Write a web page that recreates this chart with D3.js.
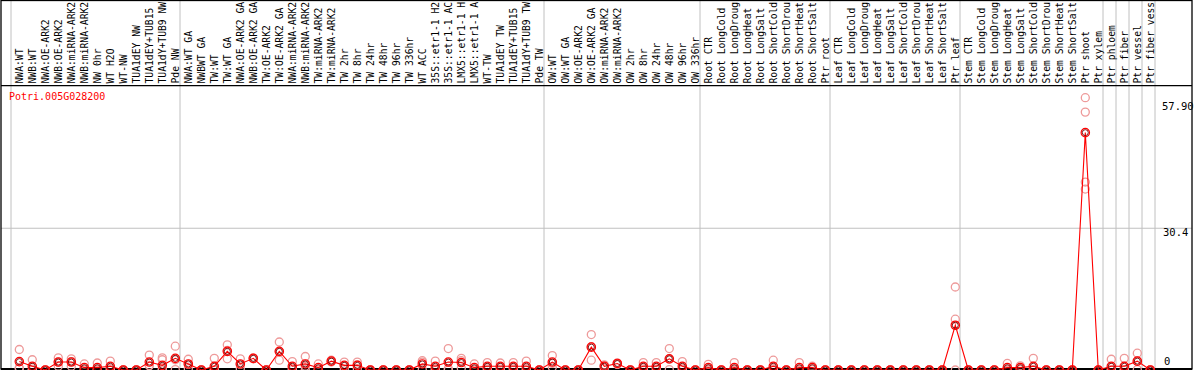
<!DOCTYPE html>
<html><head><meta charset="utf-8">
<script src="https://cdn.jsdelivr.net/npm/d3@7"></script>
<style>body{margin:0;background:#fff}svg{display:block}</style>
</head><body>
<script>
const categories = [
 "NWA:WT","NWB:WT","NWA:OE-ARK2","NWB:OE-ARK2","NWA:miRNA-ARK2","NWB:miRNA-ARK2","NW 0hr","WT H2O","WT-NW","TUA1dEY NW","TUA1dEY+TUB15","TUA1dY+TUB9 NW","Pde NW",
 "NWA:WT GA","NWBWT GA","TW:WT","TW:WT GA","NWA:OE-ARK2 GA","NWB:OE-ARK2 GA","TW:OE-ARK2","TW:OE-ARK2 GA","NWA:miRNA-ARK2","NWB:miRNA-ARK2","TW:miRNA-ARK2","TW:miRNA-ARK2",
 "TW 2hr","TW 8hr","TW 24hr","TW 48hr","TW 96hr","TW 336hr","WT ACC","35S::etr1-1 H2","35S::etr1-1 AC","LMX5::etr1-1 H","LMX5::etr1-1 A","WT-TW","TUA1dEY TW","TUA1dEY+TUB15","TUA1dY+TUB9 TW","Pde TW",
 "OW:WT","OW:WT GA","OW:OE-ARK2","OW:OE-ARK2 GA","OW:miRNA-ARK2","OW:miRNA-ARK2","OW 2hr","OW 8hr","OW 24hr","OW 48hr","OW 96hr","OW 336hr",
 "Root CTR","Root LongCold","Root LongDroug","Root LongHeat","Root LongSalt","Root ShortCold","Root ShortDrou","Root ShortHeat","Root ShortSalt","Ptr root",
 "Leaf CTR","Leaf LongCold","Leaf LongDroug","Leaf LongHeat","Leaf LongSalt","Leaf ShortCold","Leaf ShortDrou","Leaf ShortHeat","Leaf ShortSalt","Ptr leaf",
 "Stem CTR","Stem LongCold","Stem LongDroug","Stem LongHeat","Stem LongSalt","Stem ShortCold","Stem ShortDrou","Stem ShortHeat","Stem ShortSalt","Ptr shoot","Ptr xylem",
 "Ptr phloem","Ptr fiber","Ptr vessel","Ptr fiber vess"
];
// index of the first category of each group (last entry closes the final group)
const groupStarts = [0,13,41,53,63,73,84,85,86,87,88];

const means = [
 1.8,0.8,0,1.7,1.7,0.5,0.5,0.8,0,0,1.7,1.0,2.5,
 1.3,0,0.8,4.0,1.3,2.5,0,4.0,0.8,1.3,0.5,1.9,1.0,1.0,0,0,0,0,1.3,0.8,1.7,1.6,0.5,0.8,0.8,0.8,0.8,0,
 1.7,0,0,4.9,0.8,1.4,0,0.8,0.8,2.4,0.8,0,
 0.5,0,0.5,0,0,0.8,0,0.5,0.5,0,
 0,0,0,0,0,0,0,0,0,9.6,
 0,0,0,0.5,0.5,0.8,0,0,0,50.9,0,
 0.8,0.8,1.9,0
];
const replicates = [
 [4.4,0.5,0.3],[2.2,0.1,0],[0,0,0],[2.6,1.7,0.8],[2.4,1.8,0.8],[1.3,0.1,0],[1.5,0.1,0],[1.9,0.3,0],[0,0,0],[0,0,0],[3.2,1.0,0.9],[2.6,2.2,0.2,0],[5.1,2.2,0.1],
 [2.3,1.2,0.3],[0,0,0],[2.5,0.1,0],[5.4,4.2,2.4],[2.4,1.2,0.3],[2.6,2.5,2.4],[0,0,0],[6.0,3.9,2.1],[1.8,0.4,0.1],[2.9,0.8,0.1],[1.3,0.1,0],[2.1,1.9,1.7],[1.7,0.9,0.2],[1.7,1.1,0.3],[0,0,0],[0,0,0],[0,0,0],
 [0,0,0],[2.0,1.7,0.1],[1.9,0.3,0],[4.6,0.3,0],[2.5,2.0,0.4],[1.3,0.1,0],[1.6,0.5,0.2],[1.5,0.6,0.2],[1.6,0.5,0.2],[1.9,0.3,0],[0,0,0],
 [3.1,1.4,0.6],[0,0,0],[0,0,0],[7.6,5.0,2.1],[1.1,0.9,0.4],[1.5,1.3,1.2],[0,0,0],[1.6,0.5,0.2],[1.6,0.5,0.2],[4.6,2.3,0.1],[1.8,0.4,0.1],[0,0,0],
 [1.2,0.2,0],[0,0,0],[1.6,0.1,0],[0,0,0],[0,0,0],[2.1,0.2,0],[0,0,0],[1.6,0.1,0],[0.8,0.5,0.1],[0,0,0],
 [0,0,0],[0,0,0],[0,0,0],[0,0,0],[0,0,0],[0,0,0],[0,0,0],[0,0,0],[0,0,0],[17.8,10.9,0],
 [0,0,0],[0,0,0],[0,0,0],[1.4,0.1,0],[0.9,0.5,0.1],[2.5,0.1,0],[0,0,0],[0,0,0],[0,0,0],[58.4,55.3,40.3,38.8],[0,0,0],
 [2.3,0.1,0],[2.5,0.1,0],[3.6,1.9,0.1],[0,0,0]
];
const geneId = "Potri.005G028200";
const axisMax = 57.9, axisMaxLabel = "57.90";
const axisMid = 30.4, axisMidLabel = "30.4";
const axisZeroLabel = "0";

const W = 1194, H = 370;
const svg = d3.select("body").append("svg").attr("width", W).attr("height", H);
const font = "'DejaVu Sans Mono', monospace";

const xi = d3.scaleLinear().domain([0, categories.length - 1]).range([19.3, 1150.3]);
const y = d3.scaleLinear().domain([0, axisMax]).range([370, 100]);

// gridline
svg.append("line").attr("x1", 1).attr("x2", 1192).attr("y1", y(axisMid)).attr("y2", y(axisMid))
  .attr("stroke", "#c0c0c0").attr("stroke-width", 1);

// group separators
svg.selectAll("line.sep").data(groupStarts).join("line").attr("class", "sep")
  .attr("x1", d => xi(d) - 8.3).attr("x2", d => xi(d) - 8.3)
  .attr("y1", 0).attr("y2", 370).attr("stroke", "#c0c0c0").attr("stroke-width", 1);

// borders
svg.append("rect").attr("x", 1).attr("y", 0.5).attr("width", 1191).attr("height", 368.5)
  .attr("fill", "none").attr("stroke", "#000").attr("stroke-width", 1.3);
svg.append("line").attr("x1", 1).attr("x2", 1192).attr("y1", 85.7).attr("y2", 85.7)
  .attr("stroke", "#000").attr("stroke-width", 1.3);
svg.append("line").attr("x1", 1).attr("x2", 1192).attr("y1", 369).attr("y2", 369)
  .attr("stroke", "#000").attr("stroke-width", 2);

// category labels (rotated)
svg.append("g").selectAll("text").data(categories).join("text")
  .attr("transform", (d, i) => `translate(${xi(i)},83.5) rotate(-90)`)
  .attr("dy", "0.35em")
  .attr("font-family", font).attr("font-size", 9.7).attr("fill", "#000")
  .text(d => d);

// title
svg.append("text").attr("x", 9).attr("y", 99.5).attr("font-family", font).attr("font-size", 10)
  .attr("fill", "#ff0000").text(geneId);

// right axis labels
svg.append("text").attr("x", 1162).attr("y", y(axisMax) + 10).attr("font-family", font).attr("font-size", 10.5).text(axisMaxLabel);
svg.append("text").attr("x", 1163).attr("y", y(axisMid) + 8).attr("font-family", font).attr("font-size", 10.5).text(axisMidLabel);
svg.append("text").attr("x", 1164).attr("y", y(0) - 5).attr("font-family", font).attr("font-size", 10.5).text(axisZeroLabel);

// replicates
const reps = [];
replicates.forEach((arr, i) => arr.forEach(v => reps.push({i, v})));
svg.append("g").selectAll("circle").data(reps).join("circle")
  .attr("cx", d => xi(d.i)).attr("cy", d => y(d.v)).attr("r", 4)
  .attr("fill", "none").attr("stroke", "#ee9a9a").attr("stroke-width", 1.3);

// mean line
svg.append("path").datum(means)
  .attr("d", d3.line().x((d, i) => xi(i)).y(d => y(d)))
  .attr("fill", "none").attr("stroke", "#ff0000").attr("stroke-width", 1.1);

// mean markers
const mg = svg.append("g").selectAll("g").data(means).join("g")
  .attr("transform", (d, i) => `translate(${xi(i)},${y(d)})`);
mg.append("circle").attr("r", 4.2).attr("fill", "none").attr("stroke", "#ff0000").attr("stroke-width", 1.2);
mg.append("circle").attr("r", 3).attr("fill", "none").attr("stroke", "#700000").attr("stroke-width", 0.9);
</script>
</body></html>
